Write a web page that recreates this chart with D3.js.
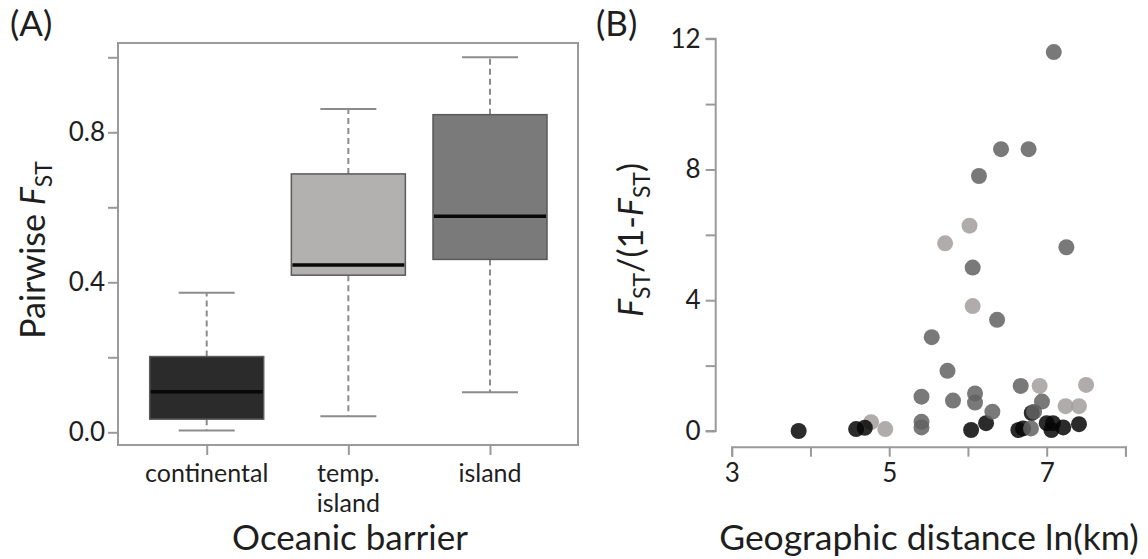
<!DOCTYPE html>
<meta charset="utf-8">
<script src="https://d3js.org/d3.v7.min.js"></script>
<style>
  body { margin: 0; background: #fff; }
  text { font-family: Lato, "Open Sans", sans-serif; fill: #1e1e1e; }
</style>
<div id="my_dataviz"></div>
<script>

// ---- panel A : box plot values (pairwise Fst)
var categories = ["continental", "temp. island", "island"];
var whiskerLow  = [0.005, 0.043, 0.107];
var boxQ1       = [0.035, 0.419, 0.461];
var boxMedian   = [0.108, 0.446, 0.576];
var boxQ3       = [0.202, 0.689, 0.847];
var whiskerHigh = [0.372, 0.862, 1.000];
var yTicksA = [0, 0.2, 0.4, 0.6, 0.8, 1.0];
var yLabelsA = [0, 0.4, 0.8];

// ---- panel B : scatter, ln(km) vs Fst/(1-Fst)
var contDist   = [3.85, 4.58, 4.69, 6.04, 6.23, 6.64, 6.70, 6.81, 7.00, 7.08, 7.06, 7.21, 7.41];
var contFst    = [0.00, 0.06, 0.10, 0.03, 0.24, 0.03, 0.08, 0.55, 0.24, 0.24, 0.03, 0.11, 0.21];
var tempDist   = [6.02, 5.71, 6.06, 6.91, 7.50, 7.24, 7.41, 4.77, 4.95];
var tempFst    = [6.28, 5.74, 3.82, 1.38, 1.41, 0.76, 0.76, 0.27, 0.06];
var islandDist = [7.09, 6.42, 6.77, 6.14, 7.25, 6.06, 6.37, 5.54, 5.74, 5.41, 5.81, 6.09, 6.09, 6.31, 5.41, 5.41, 6.67, 6.94, 6.84, 6.80];
var islandFst  = [11.59, 8.62, 8.62, 7.80, 5.62, 5.00, 3.40, 2.87, 1.84, 1.05, 0.93, 1.15, 0.87, 0.59, 0.28, 0.11, 1.38, 0.90, 0.59, 0.08];
var xTicksB = [3, 4, 5, 6, 7, 8];
var xLabelsB = [3, 5, 7];
var yTicksB = [0, 2, 4, 6, 8, 10, 12];
var yLabelsB = [0, 4, 8, 12];

var boxColors = ["#2b2b2b", "#b3b0b0", "#7a7a7a"];
var axisColor = "#9a9a9a";

var svg = d3.select("#my_dataviz")
  .append("svg")
    .attr("width", 1148)
    .attr("height", 559);

// ================= panel A
var frameA = {left: 118, right: 578, top: 43, bottom: 445};

var yA = d3.scaleLinear()
  .domain([0, 1])
  .range([432.3, 57.3]);

var xA = d3.scalePoint()
  .domain(categories)
  .range([206.7, 490]);

var boxW = 114;
var capW = 56;

svg.append("rect")
  .attr("x", frameA.left)
  .attr("y", frameA.top)
  .attr("width", frameA.right - frameA.left)
  .attr("height", frameA.bottom - frameA.top)
  .attr("fill", "none")
  .attr("stroke", axisColor)
  .attr("stroke-width", 2);

// y ticks
svg.append("g")
  .attr("transform", "translate(" + frameA.left + ",0)")
  .call(d3.axisLeft(yA).tickValues(yTicksA).tickSize(10)
        .tickFormat(function(d) { return yLabelsA.indexOf(d) >= 0 ? d3.format(".1f")(d) : ""; }))
  .call(function(g) {
    g.select(".domain").remove();
    g.selectAll("line").attr("stroke", axisColor).attr("stroke-width", 2);
    g.selectAll("text").attr("font-size", 26).attr("font-family", "Lato").attr("fill", "#1e1e1e").attr("x", -13);
  });

// x ticks
svg.append("g")
  .attr("transform", "translate(0," + frameA.bottom + ")")
  .call(d3.axisBottom(xA).tickSize(10).tickFormat(""))
  .call(function(g) {
    g.select(".domain").remove();
    g.selectAll("line").attr("stroke", axisColor).attr("stroke-width", 2);
  });

var boxes = categories.map(function(c, i) {
  return {cat: c, lo: whiskerLow[i], q1: boxQ1[i], med: boxMedian[i], q3: boxQ3[i], hi: whiskerHigh[i], i: i};
});

var bg = svg.selectAll("myBoxes").data(boxes).enter().append("g");

// whiskers
bg.append("line")
  .attr("x1", function(d) { return xA(d.cat); })
  .attr("x2", function(d) { return xA(d.cat); })
  .attr("y1", function(d) { return yA(d.q3); })
  .attr("y2", function(d) { return yA(d.hi); })
  .attr("stroke", "#8c8c8c").attr("stroke-width", 2).attr("stroke-dasharray", "6,4");
bg.append("line")
  .attr("x1", function(d) { return xA(d.cat); })
  .attr("x2", function(d) { return xA(d.cat); })
  .attr("y1", function(d) { return yA(d.q1); })
  .attr("y2", function(d) { return yA(d.lo); })
  .attr("stroke", "#8c8c8c").attr("stroke-width", 2).attr("stroke-dasharray", "6,4");
// caps
["hi", "lo"].forEach(function(k) {
  bg.append("line")
    .attr("x1", function(d) { return xA(d.cat) - capW / 2; })
    .attr("x2", function(d) { return xA(d.cat) + capW / 2; })
    .attr("y1", function(d) { return yA(d[k]); })
    .attr("y2", function(d) { return yA(d[k]); })
    .attr("stroke", "#8c8c8c").attr("stroke-width", 2);
});
// boxes
bg.append("rect")
  .attr("x", function(d) { return xA(d.cat) - boxW / 2; })
  .attr("y", function(d) { return yA(d.q3); })
  .attr("width", boxW)
  .attr("height", function(d) { return yA(d.q1) - yA(d.q3); })
  .attr("fill", function(d) { return boxColors[d.i]; })
  .attr("stroke", "#5a5a5a")
  .attr("stroke-width", 1.5);
// medians
bg.append("line")
  .attr("x1", function(d) { return xA(d.cat) - boxW / 2 + 1; })
  .attr("x2", function(d) { return xA(d.cat) + boxW / 2 - 1; })
  .attr("y1", function(d) { return yA(d.med); })
  .attr("y2", function(d) { return yA(d.med); })
  .attr("stroke", "#080808").attr("stroke-width", 3.5);

// category labels (wrap on space for "temp. island")
svg.selectAll("myCatLabels").data(categories).enter()
  .append("text")
    .attr("x", function(d) { return xA(d); })
    .attr("y", 482)
    .attr("text-anchor", "middle")
    .attr("font-size", 25)
    .each(function(d) {
      var parts = d === "temp. island" ? ["temp.", "island"] : [d];
      var t = d3.select(this);
      parts.forEach(function(p, j) {
        t.append("tspan").attr("x", xA(d)).attr("dy", j === 0 ? 0 : 30).text(p);
      });
    });

svg.append("text")
  .attr("x", 350).attr("y", 550)
  .attr("text-anchor", "middle")
  .attr("font-size", 35)
  .text("Oceanic barrier");

var ylabA = svg.append("text")
  .attr("transform", "translate(45,250) rotate(-90)")
  .attr("text-anchor", "middle")
  .attr("font-size", 34);
ylabA.append("tspan").text("Pairwise ");
ylabA.append("tspan").attr("font-style", "italic").text("F");
ylabA.append("tspan").attr("font-size", 23).attr("dy", 7).text("ST");

svg.append("text").attr("x", 10).attr("y", 36).attr("font-size", 35).text("(A)");

// ================= panel B
var xB = d3.scaleLinear().domain([3, 8]).range([731.7, 1046.7 + 78.75]);
var yB = d3.scaleLinear().domain([0, 12]).range([431, 38.7]);

svg.append("g")
  .attr("transform", "translate(715.7,0)")
  .call(d3.axisLeft(yB).tickValues(yTicksB).tickSize(10)
        .tickFormat(function(d) { return yLabelsB.indexOf(d) >= 0 ? d : ""; }))
  .call(function(g) {
    g.select(".domain").attr("stroke", axisColor).attr("stroke-width", 2).attr("d", "M-10," + yB(12) + "H0V" + yB(0) + "H-10");
    g.selectAll("line").attr("stroke", axisColor).attr("stroke-width", 2);
    g.selectAll("text").attr("font-size", 26).attr("font-family", "Lato").attr("fill", "#1e1e1e").attr("x", -15);
  });

svg.append("g")
  .attr("transform", "translate(0,446.7)")
  .call(d3.axisBottom(xB).tickValues(xTicksB).tickSize(10)
        .tickFormat(function(d) { return xLabelsB.indexOf(d) >= 0 ? d : ""; }))
  .call(function(g) {
    g.select(".domain").attr("stroke", axisColor).attr("stroke-width", 2);
    g.selectAll("line").attr("stroke", axisColor).attr("stroke-width", 2);
    g.selectAll("text").attr("font-size", 26).attr("font-family", "Lato").attr("fill", "#1e1e1e").attr("y", 17);
  });

function toPoints(xs, ys) {
  return xs.map(function(v, i) { return {x: v, y: ys[i]}; });
}
var groups = [
  {pts: toPoints(tempDist, tempFst), color: "#a29e9e"},
  {pts: toPoints(contDist, contFst), color: "#060606"},
  {pts: toPoints(islandDist, islandFst), color: "#626262"}
];

groups.forEach(function(gr) {
  svg.append("g").selectAll("circle").data(gr.pts).enter()
    .append("circle")
      .attr("cx", function(d) { return xB(d.x); })
      .attr("cy", function(d) { return yB(d.y); })
      .attr("r", 8)
      .attr("fill", gr.color)
      .attr("fill-opacity", 0.85);
});

svg.append("text")
  .attr("x", 929).attr("y", 550)
  .attr("text-anchor", "middle")
  .attr("font-size", 35.5)
  .text("Geographic distance ln(km)");

var ylabB = svg.append("text")
  .attr("transform", "translate(643,240) rotate(-90)")
  .attr("text-anchor", "middle")
  .attr("font-size", 34);
ylabB.append("tspan").attr("font-style", "italic").text("F");
ylabB.append("tspan").attr("font-size", 23).attr("dy", 7).text("ST");
ylabB.append("tspan").attr("dy", -7).text("/(1-");
ylabB.append("tspan").attr("font-style", "italic").text("F");
ylabB.append("tspan").attr("font-size", 23).attr("dy", 7).text("ST");
ylabB.append("tspan").attr("dy", -7).text(")");

svg.append("text").attr("x", 596).attr("y", 36).attr("font-size", 35).text("(B)");

</script>
